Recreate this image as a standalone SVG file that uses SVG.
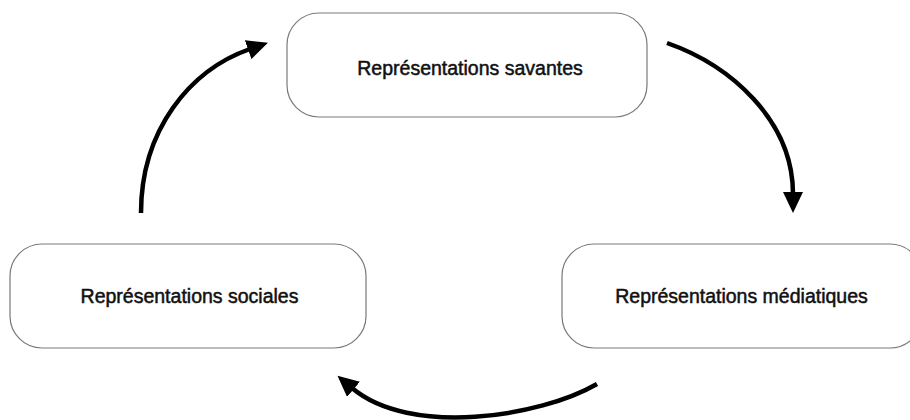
<svg xmlns="http://www.w3.org/2000/svg" width="910" height="420" viewBox="0 0 910 420">
  <style>
    .box { fill: #ffffff; stroke: #7a7a7a; stroke-width: 1.2; }
    .lbl { font-family: "Liberation Sans", Arial, sans-serif; font-size: 19.5px; fill: #111111; text-anchor: middle; stroke: #111111; stroke-width: 0.5; }
    .arr { fill: none; stroke: #000000; stroke-width: 4.5; marker-end: url(#head); }
  </style>
  <defs>
    <marker id="head" markerUnits="userSpaceOnUse" markerWidth="22" markerHeight="20" refX="2" refY="10" orient="auto">
      <path d="M0,0 L21,10 L0,20 z" fill="#000000"/>
    </marker>
  </defs>
  <rect width="910" height="420" fill="#ffffff"/>
  <g id="node-savantes">
    <rect class="box" x="287" y="13" width="360" height="104" rx="32" ry="32"/>
    <text class="lbl" x="470" y="75">Représentations savantes</text>
  </g>
  <g id="node-sociales">
    <rect class="box" x="10" y="244" width="356" height="104" rx="32" ry="32"/>
    <text class="lbl" x="189.5" y="303">Représentations sociales</text>
  </g>
  <g id="node-mediatiques">
    <rect class="box" x="562" y="244" width="360" height="104" rx="32" ry="32"/>
    <text class="lbl" x="741.5" y="303">Représentations médiatiques</text>
  </g>
  <g id="connectors">
    <path class="arr" d="M141,213 C141,130 190,70 250,49"/>
    <path class="arr" d="M667,43 C730,65 793,120 793,194"/>
    <path class="arr" d="M597,384 C540,417 410,437 352,388"/>
  </g>
</svg>
